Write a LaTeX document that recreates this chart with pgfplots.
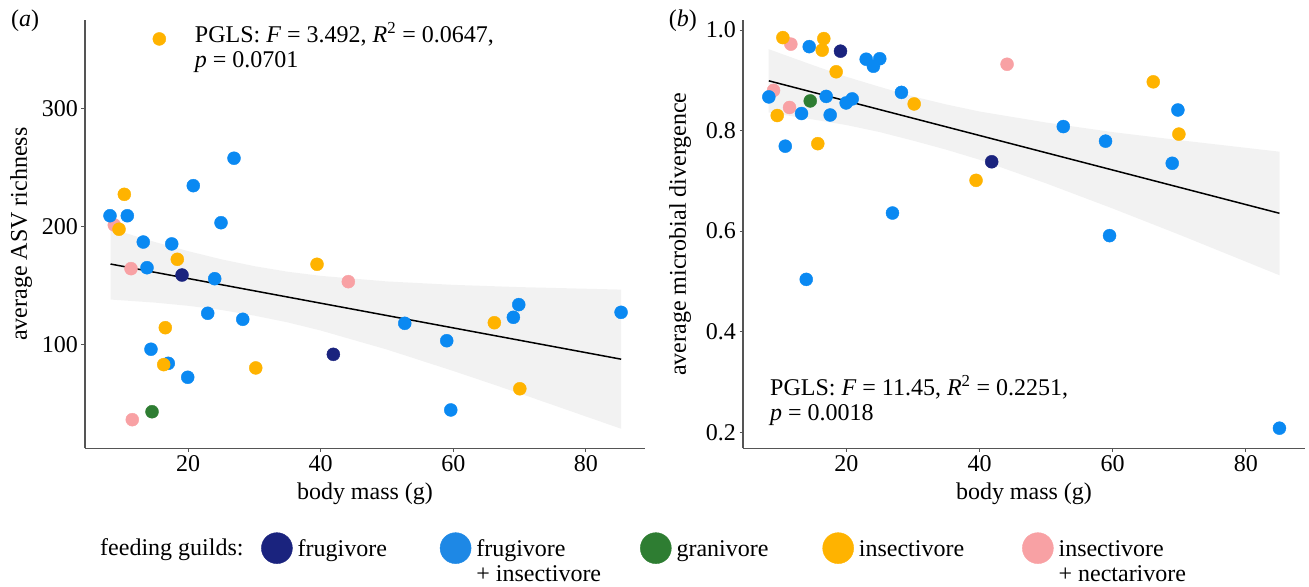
\documentclass[border=0pt]{standalone}
\usepackage{fontspec}
\setmainfont{Liberation Serif}
\usepackage{pgfplots}
\pgfplotsset{compat=1.18}
\definecolor{cnavy}{HTML}{1A237E}
\definecolor{cblue}{HTML}{1E88E5}
\definecolor{dblue}{HTML}{0A89F2}
\definecolor{cgreen}{HTML}{2E7D32}
\definecolor{corange}{HTML}{FFB300}
\definecolor{cpink}{HTML}{F8A1A4}
\definecolor{bandc}{HTML}{F2F2F2}
\definecolor{axgray}{HTML}{555555}
\newcommand{\fs}{\fontsize{24bp}{25bp}\selectfont}
\pgfplotsset{
 panel/.style={
  scale only axis, height=428.3bp, anchor=south west,
  axis x line*=bottom, axis y line*=left,
  axis line style={-, draw=axgray, line width=1.3bp},
  tick align=outside, major tick length=3.5bp,
  tick style={draw=axgray, line width=1bp},
  xmin=4.45, xmax=88.9, xtick={20,40,60,80},
  tick label style={font=\fs},
  label style={font=\fs},
  /pgf/number format/assume math mode=true,
  xlabel={body mass (g)},
  xlabel style={at={(axis description cs:0.5,-0.105)}, anchor=center},
  clip=false,
 },
 dot/.style={only marks, mark=*, mark size=6.5bp, forget plot, color=#1},
 bandst/.style={fill=bandc, draw=none, forget plot},
 fitline/.style={black, line width=1.5bp, forget plot},
 bigdot/.style={legend image code/.code={\fill[#1] (15.5bp,8bp) circle[radius=15.5bp];}},
}
\begin{document}
\begin{tikzpicture}
\useasboundingbox (0,0) rectangle (1309bp,587bp);
% ---------------- panel (a) ----------------
\begin{axis}[panel, width=560bp, at={(85bp,138.7bp)},
  ymin=12.7, ymax=374.6, ytick={100,200,300},
  ylabel={average ASV richness},
  ylabel style={at={(axis description cs:-0.114,0.5)}, anchor=center},
  legend columns=5, legend cell align=left,
  legend style={at={(axis description cs:0.3143,-0.196)}, anchor=north west,
    draw=none, fill=none, inner sep=0pt,
    nodes={inner sep=0pt, anchor=base west, font=\fs},
    /tikz/every odd column/.style={column sep=5bp},
    /tikz/column 2/.style={column sep=53bp},
    /tikz/column 4/.style={column sep=39bp},
    /tikz/column 6/.style={column sep=54bp},
    /tikz/column 8/.style={column sep=58bp}},
]
\addplot[bandst] coordinates {
 (8.3,198.4) (15,187.0) (20,179.3) (25,172.4) (30,166.6) (35,161.9) (40,158.4)
 (50,153.7) (60,150.8) (70,148.9) (85.3,146.8)
 (85.3,29.2) (70,59.1) (60,78.0) (50,96.1) (40,112.2) (35,119.1) (30,124.8)
 (25,129.6) (20,133.1) (15,135.8) (8.3,138.4)} -- cycle;
\addplot[fitline] coordinates {(8.3,168.4) (85.3,88.0)};
\addplot[dot=cpink] coordinates {(8.87,201.4) (11.39,164.5) (11.58,36.9) (44.16,153.5)};
\addplot[dot=cgreen] coordinates {(14.56,43.6)};
\addplot[dot=cnavy] coordinates {(19.08,159.1) (41.90,92.1)};
\addplot[dot=dblue] coordinates {
 (26.92,257.8) (20.78,234.6) (8.22,209.2) (10.83,209.2) (24.96,203.3) (13.24,187.0)
 (17.53,185.4) (13.80,165.3) (24.01,156.0) (22.96,126.8) (28.24,121.7) (14.40,96.4)
 (17.01,84.5) (19.94,72.7) (52.67,118.3) (59.00,103.6) (69.05,123.4) (69.86,134.1)
 (59.61,45.1) (85.29,127.6)};
\addplot[dot=corange] coordinates {
 (15.66,358.6) (10.38,227.3) (9.58,197.8) (18.37,172.4) (39.44,168.2) (16.56,114.6)
 (16.32,83.4) (30.20,80.6) (66.18,118.8) (70.02,63.0)};
\node[font=\fs] at (axis description cs:-0.107,0.998) {(\textit{a})};
\node[anchor=north west, align=left, inner sep=0pt, font=\fs]
  at (axis description cs:0.196,0.995)
  {PGLS: \textit{F} = 3.492, \textit{R}\textsuperscript{2} = 0.0647,\\ \textit{p} = 0.0701};
\addlegendimage{bigdot=cnavy}
\addlegendentry{frugivore}
\addlegendimage{bigdot=cblue}
\addlegendentry{\begin{tabular}[t]{@{}l@{}}frugivore\\+ insectivore\end{tabular}}
\addlegendimage{bigdot=cgreen}
\addlegendentry{granivore}
\addlegendimage{bigdot=corange}
\addlegendentry{insectivore}
\addlegendimage{bigdot=cpink}
\addlegendentry{\begin{tabular}[t]{@{}l@{}}insectivore\\+ nectarivore\end{tabular}}
\end{axis}
% ---------------- panel (b) ----------------
\begin{axis}[panel, width=562bp, at={(743bp,138.7bp)},
  ymin=0.168, ymax=1.02, ytick={0.2,0.4,0.6,0.8,1.0},
  yticklabel style={/pgf/number format/.cd, fixed, fixed zerofill, precision=1},
  ylabel={average microbial divergence},
  ylabel style={at={(axis description cs:-0.112,0.5)}, anchor=center},
]
\addplot[bandst] coordinates {
 (8.3,0.962) (15,0.930) (20,0.907) (25,0.887) (30,0.868) (35,0.852) (40,0.838)
 (50,0.816) (60,0.797) (70,0.781) (85.1,0.758)
 (85.1,0.512) (70,0.593) (60,0.645) (50,0.695) (40,0.742) (35,0.762) (30,0.780)
 (25,0.797) (20,0.811) (15,0.822) (8.3,0.836)} -- cycle;
\addplot[fitline] coordinates {(8.33,0.899) (85.06,0.6355)};
\addplot[dot=cpink] coordinates {(11.64,0.972) (44.13,0.932) (9.04,0.880) (11.44,0.846)};
\addplot[dot=cgreen] coordinates {(14.55,0.859)};
\addplot[dot=cnavy] coordinates {(19.10,0.958) (41.82,0.738)};
\addplot[dot=dblue] coordinates {
 (14.40,0.967) (22.96,0.942) (25.00,0.943) (24.05,0.928) (8.33,0.867) (16.95,0.868)
 (19.95,0.855) (20.86,0.863) (13.24,0.834) (17.55,0.831) (28.26,0.876) (10.80,0.769)
 (26.91,0.636) (13.95,0.504) (69.80,0.841) (52.58,0.808) (58.93,0.779) (68.95,0.735)
 (59.53,0.591) (85.06,0.208)};
\addplot[dot=corange] coordinates {
 (10.44,0.985) (16.59,0.983) (16.35,0.960) (18.45,0.917) (9.59,0.830) (30.17,0.853)
 (15.69,0.774) (39.47,0.701) (66.10,0.897) (69.95,0.793)};
\node[font=\fs] at (axis description cs:-0.107,0.998) {(\textit{b})};
\node[anchor=north west, align=left, inner sep=0pt, font=\fs]
  at (axis description cs:0.048,0.171)
  {PGLS: \textit{F} = 11.45, \textit{R}\textsuperscript{2} = 0.2251,\\ \textit{p} = 0.0018};
\end{axis}
\node[anchor=base west, font=\fs, inner sep=0pt] at (100bp,32bp) {feeding guilds:};
\end{tikzpicture}
\end{document}
